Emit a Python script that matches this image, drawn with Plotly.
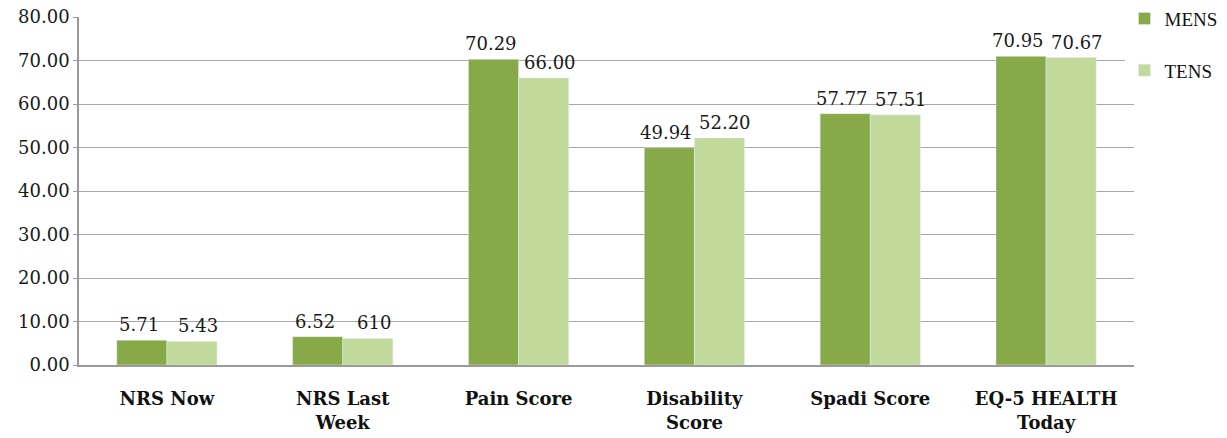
import plotly.graph_objects as go

categories = ["NRS Now", "NRS Last<br>Week", "Pain Score", "Disability<br>Score", "Spadi Score", "EQ-5 HEALTH<br>Today"]
mens = [5.71, 6.52, 70.29, 49.94, 57.77, 70.95]
tens = [5.43, 6.10, 66.00, 52.20, 57.51, 70.67]
mens_labels = ["5.71", "6.52", "70.29", "49.94", "57.77", "70.95"]
tens_labels = ["5.43", "610", "66.00", "52.20", "57.51", "70.67"]
y_ticks = [0, 10, 20, 30, 40, 50, 60, 70, 80]
y_tick_labels = ["0.00", "10.00", "20.00", "30.00", "40.00", "50.00", "60.00", "70.00", "80.00"]

SERIF = "DejaVu Serif"
fig = go.Figure()
fig.add_trace(go.Bar(x=categories, y=mens, name="MENS", marker_color="#87A947",
                     legendgroup="a"))
fig.add_trace(go.Bar(x=categories, y=tens, name="TENS", marker_color="#C1D99B",
                     legendgroup="b"))

# value labels, spread slightly outward as in the reference
for cat, v, lab in zip(categories, mens, mens_labels):
    fig.add_annotation(x=cat, y=v, text=lab, showarrow=False, xref="x", yref="y",
                       xanchor="center", yanchor="bottom", xshift=-28, yshift=3,
                       font=dict(family=SERIF, size=18, color="#1a1a1a"))
for cat, v, lab in zip(categories, tens, tens_labels):
    fig.add_annotation(x=cat, y=v, text=lab, showarrow=False, xref="x", yref="y",
                       xanchor="center", yanchor="bottom", xshift=31, yshift=3,
                       font=dict(family=SERIF, size=18, color="#1a1a1a"))

fig.update_layout(
    width=1227, height=438,
    margin=dict(l=79, r=93, t=17, b=73, autoexpand=False),
    paper_bgcolor="white", plot_bgcolor="white",
    barmode="group", bargap=0.43, bargroupgap=0,
    font=dict(family=SERIF, color="#1a1a1a"),
    legend=dict(x=0.991, y=1.05, xanchor="left", yanchor="top",
                font=dict(family="Liberation Serif", size=19, color="#111"),
                tracegroupgap=24, traceorder="grouped", itemwidth=30),
)
fig.update_xaxes(showgrid=False, showline=True, linecolor="#9a9a9a", linewidth=1.5,
                 ticks="", ticklabelstandoff=17,
                 tickfont=dict(family=SERIF, size=18, color="#111", weight="bold"))
fig.update_yaxes(range=[0, 80], tickvals=y_ticks, ticktext=y_tick_labels,
                 showgrid=True, gridcolor="#a8a8a8", gridwidth=1,
                 showline=True, linecolor="#9a9a9a", linewidth=1.5,
                 ticks="outside", ticklen=4, tickcolor="#9a9a9a",
                 zeroline=False,
                 tickfont=dict(family=SERIF, size=18, color="#1a1a1a"))

fig.write_html("out.html")
